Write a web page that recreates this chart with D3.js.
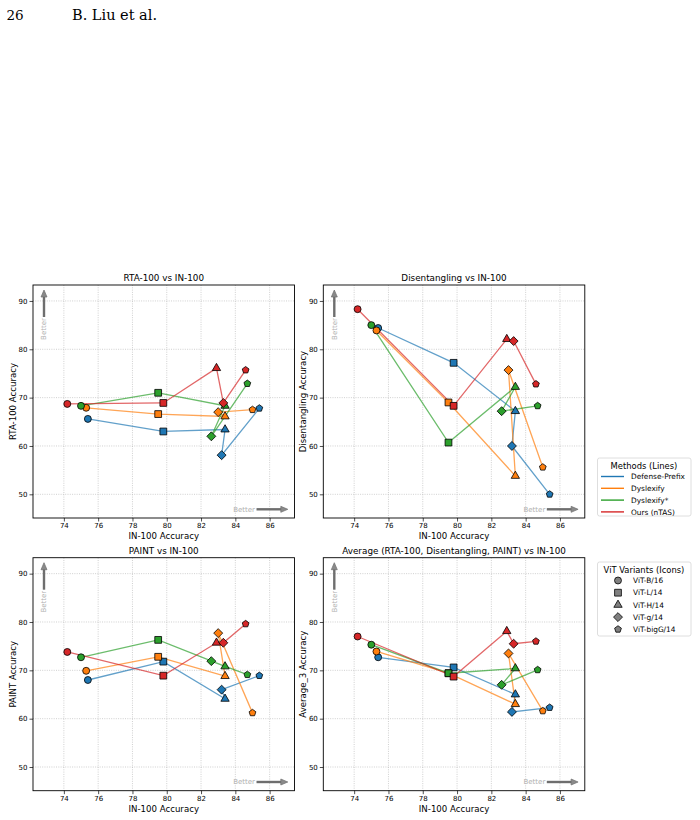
<!DOCTYPE html>
<html>
<head>
<meta charset="utf-8">
<script src="https://cdn.jsdelivr.net/npm/d3@7"></script>
<style>
  body { margin: 0; background: #fff; }
  svg { display: block; font-family: "DejaVu Sans", sans-serif; }
</style>
</head>
<body>
<div id="chart"></div>
<script>
// methods (lines) and ViT variants (markers)
const methods = ["Defense-Prefix", "Dyslexify", "Dyslexify*", "Ours (nTAS)"];
const variants = ["ViT-B/16", "ViT-L/14", "ViT-H/14", "ViT-g/14", "ViT-bigG/14"];
const methodColors = ["#1f77b4", "#ff7f0e", "#2ca02c", "#d62728"];

// IN-100 accuracy, one row per method, one value per variant
const in100 = [
  [75.4, 79.8, 83.4, 83.2, 85.4],
  [75.3, 79.5, 83.4, 83.0, 85.0],
  [75.0, 79.5, 83.4, 82.6, 84.7],
  [74.2, 79.8, 82.9, 83.3, 84.6]
];
const rta100 = [
  [65.6, 63.0, 63.4, 58.1, 67.8],
  [67.9, 66.6, 66.1, 67.0, 67.5],
  [68.3, 71.0, 68.3, 62.0, 72.9],
  [68.7, 68.9, 76.1, 68.9, 75.7]
];
const disentangling = [
  [84.4, 77.2, 67.2, 60.0, 50.0],
  [83.9, 69.0, 53.8, 75.7, 55.6],
  [85.0, 60.7, 72.2, 67.2, 68.3],
  [88.3, 68.3, 82.1, 81.7, 72.8]
];
const paint = [
  [68.0, 71.8, 64.1, 66.0, 68.9],
  [69.9, 72.8, 68.8, 77.7, 61.2],
  [72.7, 76.3, 70.8, 71.9, 69.1],
  [73.8, 68.9, 75.7, 75.7, 79.6]
];
const average3 = [
  [72.7, 70.6, 65.0, 61.4, 62.3],
  [73.9, 69.4, 63.0, 73.5, 61.6],
  [75.3, 69.4, 70.4, 67.0, 70.1],
  [77.0, 68.7, 78.1, 75.5, 76.0]
];

const xTicks = [74, 76, 78, 80, 82, 84, 86];
const yTicks = [50, 60, 70, 80, 90];

const panels = [
  { title: "RTA-100 vs IN-100", ylabel: "RTA-100 Accuracy", values: rta100 },
  { title: "Disentangling vs IN-100", ylabel: "Disentangling Accuracy", values: disentangling },
  { title: "PAINT vs IN-100", ylabel: "PAINT Accuracy", values: paint },
  { title: "Average (RTA-100, Disentangling, PAINT) vs IN-100", ylabel: "Average_3 Accuracy", values: average3 }
];

const W = 700, H = 820;
const pw = 261.5, ph = 233;
const origins = [[33, 285], [323.3, 285], [33, 557.7], [323.3, 557.7]];

// marker shapes (matplotlib-like)
const pentagon = {
  draw(ctx, size) {
    const r = Math.sqrt(size / 2.378);
    for (let i = 0; i < 5; i++) {
      const a = -Math.PI / 2 + i * 2 * Math.PI / 5;
      i ? ctx.lineTo(r * Math.cos(a), r * Math.sin(a)) : ctx.moveTo(r * Math.cos(a), r * Math.sin(a));
    }
    ctx.closePath();
  }
};
const diamond = {
  draw(ctx, size) {
    const r = Math.sqrt(size / 2);
    ctx.moveTo(0, -r); ctx.lineTo(r, 0); ctx.lineTo(0, r); ctx.lineTo(-r, 0); ctx.closePath();
  }
};
const shapes = [
  { type: d3.symbolCircle, size: 38 },
  { type: d3.symbolSquare, size: 46 },
  { type: d3.symbolTriangle, size: 30 },
  { type: diamond, size: 40 },
  { type: pentagon, size: 30 }
];
const symbolPath = (i) => d3.symbol().type(shapes[i].type).size(shapes[i].size)();

const svg = d3.select("#chart").append("svg").attr("width", W).attr("height", H);

// page header
const serif = "'DejaVu Serif', 'Liberation Serif', serif";
svg.append("text").attr("x", 6.5).attr("y", 19.5)
  .style("font-family", serif).style("font-size", "13.5px").text("26");
svg.append("text").attr("x", 72).attr("y", 19.5)
  .style("font-family", serif).style("font-size", "14.5px").text("B. Liu et al.");

const x = d3.scaleLinear().domain([72.2, 87.45]).range([0, pw]);
const y = d3.scaleLinear().domain([45.1, 93.3]).range([ph, 0]);

panels.forEach((p, pi) => {
  const g = svg.append("g").attr("transform", `translate(${origins[pi][0]},${origins[pi][1]})`);

  // grid
  g.append("g").selectAll("line").data(xTicks).join("line")
    .attr("x1", d => x(d)).attr("x2", d => x(d)).attr("y1", 0).attr("y2", ph)
    .attr("stroke", "#b0b0b0").attr("stroke-width", 0.6).attr("stroke-dasharray", "1,1.3");
  g.append("g").selectAll("line").data(yTicks).join("line")
    .attr("y1", d => y(d)).attr("y2", d => y(d)).attr("x1", 0).attr("x2", pw)
    .attr("stroke", "#b0b0b0").attr("stroke-width", 0.6).attr("stroke-dasharray", "1,1.3");

  // axes
  const xAxis = g.append("g").attr("transform", `translate(0,${ph})`)
    .call(d3.axisBottom(x).tickValues(xTicks).tickSize(3.5).tickPadding(2).tickFormat(d3.format("d")));
  const yAxis = g.append("g")
    .call(d3.axisLeft(y).tickValues(yTicks).tickSize(3.5).tickPadding(2).tickFormat(d3.format("d")));
  [xAxis, yAxis].forEach(a => {
    a.select(".domain").remove();
    a.selectAll("text").style("font-size", "7px").attr("fill", "#000").style("font-family", "DejaVu Sans");
    a.selectAll("line").attr("stroke", "#000").attr("stroke-width", 0.7);
  });

  // frame
  g.append("rect").attr("width", pw).attr("height", ph)
    .attr("fill", "none").attr("stroke", "#000").attr("stroke-width", 0.9);

  // title and labels
  g.append("text").attr("x", pw / 2).attr("y", -3.8).attr("text-anchor", "middle")
    .style("font-size", "8.8px").text(p.title);
  g.append("text").attr("x", pw / 2).attr("y", ph + 21).attr("text-anchor", "middle")
    .style("font-size", "8.6px").text("IN-100 Accuracy");
  g.append("text").attr("transform", `translate(-17.5,${ph / 2}) rotate(-90)`)
    .attr("text-anchor", "middle").style("font-size", "8.6px").text(p.ylabel);

  // "Better" hints
  const ax = 11, at = 5, ab = 32;
  g.append("line").attr("x1", ax).attr("x2", ax).attr("y1", ab).attr("y2", at + 6)
    .attr("stroke", "#6e6e6e").attr("stroke-width", 2.4);
  g.append("path").attr("d", `M${ax},${at} L${ax + 3},${at + 7} L${ax - 3},${at + 7} Z`)
    .attr("fill", "#8a8a8a").attr("stroke", "#6e6e6e").attr("stroke-width", 0.7);
  g.append("text").attr("transform", `translate(${ax + 2.3},${ab + 12}) rotate(-90)`)
    .attr("text-anchor", "middle").style("font-size", "7px").attr("fill", "#b0b0b0").text("Better");

  const ay = ph - 8.7, ar = pw - 6.7, al = pw - 38;
  g.append("line").attr("x1", al).attr("x2", ar - 6).attr("y1", ay).attr("y2", ay)
    .attr("stroke", "#6e6e6e").attr("stroke-width", 2.4);
  g.append("path").attr("d", `M${ar},${ay} L${ar - 7},${ay - 3} L${ar - 7},${ay + 3} Z`)
    .attr("fill", "#8a8a8a").attr("stroke", "#6e6e6e").attr("stroke-width", 0.7);
  g.append("text").attr("x", al - 1.5).attr("y", ay + 2.5).attr("text-anchor", "end")
    .style("font-size", "7px").attr("fill", "#b0b0b0").text("Better");

  // lines per method
  const line = d3.line().x(d => x(d[0])).y(d => y(d[1]));
  methods.forEach((m, mi) => {
    const pts = in100[mi].map((v, i) => [v, p.values[mi][i]]);
    g.append("path").attr("d", line(pts)).attr("fill", "none")
      .attr("stroke", methodColors[mi]).attr("stroke-opacity", 0.7).attr("stroke-width", 1.3);
  });
  // markers per method
  methods.forEach((m, mi) => {
    g.append("g").selectAll("path").data(variants).join("path")
      .attr("d", (v, i) => symbolPath(i))
      .attr("transform", (v, i) => `translate(${x(in100[mi][i])},${y(p.values[mi][i])})`)
      .attr("fill", methodColors[mi]).attr("stroke", "#000").attr("stroke-width", 0.8);
  });
});

// legends
function legendBox(x0, y0, w, h) {
  svg.append("rect").attr("x", x0).attr("y", y0).attr("width", w).attr("height", h)
    .attr("rx", 2).attr("fill", "#fff").attr("stroke", "#d6d6d6").attr("stroke-width", 0.8);
}
legendBox(597.5, 458, 93.5, 58);
svg.append("text").attr("x", 644).attr("y", 468.5).attr("text-anchor", "middle")
  .style("font-size", "8.4px").text("Methods (Lines)");
methods.forEach((m, mi) => {
  const ly = 476.5 + mi * 11.8;
  svg.append("line").attr("x1", 601).attr("x2", 624).attr("y1", ly).attr("y2", ly)
    .attr("stroke", methodColors[mi]).attr("stroke-width", 1.4);
  svg.append("text").attr("x", 631).attr("y", ly + 2.6).style("font-size", "7.4px").text(m);
});

legendBox(597.5, 562, 93.5, 74);
svg.append("text").attr("x", 644).attr("y", 572.5).attr("text-anchor", "middle")
  .style("font-size", "8.4px").text("ViT Variants (Icons)");
variants.forEach((v, i) => {
  const ly = 580.5 + i * 12.2;
  svg.append("path").attr("d", symbolPath(i)).attr("transform", `translate(618,${ly})`)
    .attr("fill", "#808080").attr("stroke", "#000").attr("stroke-width", 0.8);
  svg.append("text").attr("x", 633).attr("y", ly + 2.6).style("font-size", "7.4px").text(v);
});
</script>
</body>
</html>
